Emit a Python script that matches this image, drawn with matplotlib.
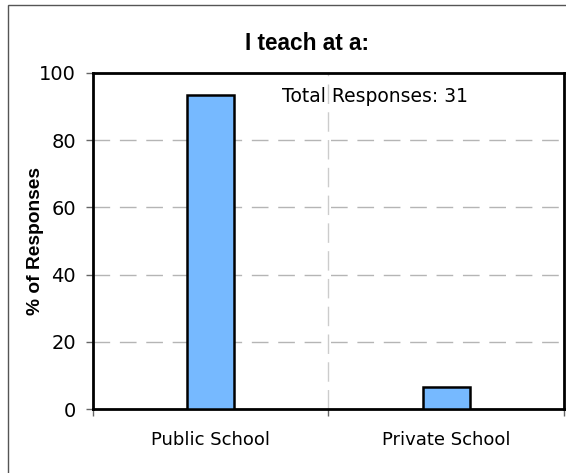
import matplotlib.pyplot as plt
from matplotlib.patches import Rectangle

plt.rcParams['font.family'] = ['DejaVu Sans']

# data
categories = ['Public School', 'Private School']
pct = [93.5, 6.5]
total = 31
yticks = [0, 20, 40, 60, 80, 100]

W, H = 566, 473
fig = plt.figure(figsize=(W / 100, H / 100), dpi=100)

# outer chart border
fig.patches.append(Rectangle((8 / W, -0.05), 1.1, 1 - 5 / H + 0.05,
                             transform=fig.transFigure, fill=False,
                             edgecolor='#555555', linewidth=1.0))

ax = fig.add_axes([92.5 / W, 1 - 409 / H, (564 - 92.5) / W, (409 - 73) / H])

xs = list(range(len(categories)))
ax.bar(xs, pct, width=0.2, color='#76b9ff', edgecolor='black', linewidth=1.8, zorder=3)

ax.set_xlim(-0.5, len(categories) - 0.5)
ax.set_ylim(0, 100)
ax.set_yticks(yticks)
ax.set_yticklabels([str(t) for t in yticks], fontsize=14)

# ticks on category boundaries, labels at centres
ax.set_xticks([i - 0.5 for i in range(len(categories) + 1)])
ax.set_xticklabels([])
ax.set_xticks(xs, minor=True)
ax.set_xticklabels(categories, minor=True, fontsize=13)
ax.tick_params(axis='x', which='minor', length=0, pad=16)
ax.tick_params(axis='x', which='major', length=5, width=1, color='#666666', direction='out')
ax.tick_params(axis='y', length=5, width=1, color='#666666', direction='out', pad=7)

for y in yticks[1:-1]:
    ax.axhline(y, color='#b5b5b5', linestyle=(0, (12, 7)), linewidth=1, zorder=1)
ax.axvline(0.5, color='#cccccc', linestyle=(0, (14, 6)), linewidth=1, zorder=1)

for s in ax.spines.values():
    s.set_linewidth(2)
    s.set_color('black')

ax.set_ylabel('% of Responses', fontsize=13.8, fontweight='bold', family='Liberation Sans')
ax.yaxis.set_label_coords((44 - 92.5) / 471.5, 0.5)
fig.text(307 / W, 1 - 43 / H, 'I teach at a:', fontsize=16.3, fontweight='bold',
         family='Liberation Sans', ha='center', va='center')
ax.text(282 / W, 1 - 97 / H, 'Total Responses: %d' % total, transform=fig.transFigure,
        fontsize=13.5, ha='left', va='center')

fig.savefig('out.png', dpi=100)
